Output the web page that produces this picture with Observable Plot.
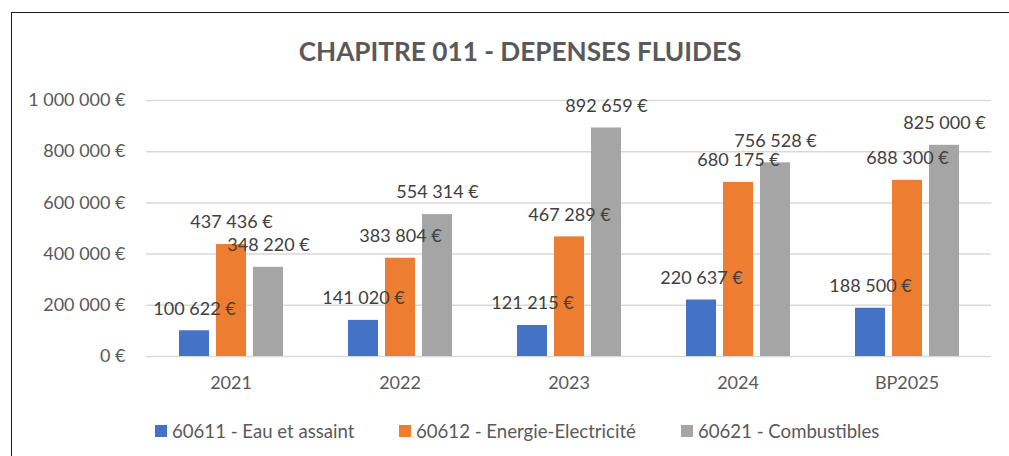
<!DOCTYPE html>
<html>
<head>
<meta charset="utf-8">
<script src="https://cdn.jsdelivr.net/npm/d3@7"></script>
<script src="https://cdn.jsdelivr.net/npm/@observablehq/plot@0.6"></script>
<style>
  html, body { margin: 0; padding: 0; background: #fff; }
  #wrap { position: relative; width: 1009px; height: 456px; overflow: hidden; font-family: Lato, "Open Sans", sans-serif; }
  #frame { position: absolute; left: 11px; top: 12px; width: 1100px; height: 600px; border-left: 1.5px solid #1a1a1a; border-top: 1.5px solid #1a1a1a; }
  #title { position: absolute; left: 0; top: 38px; width: 1040px; text-align: center; font-weight: bold; font-size: 26.2px; color: #595959; line-height: 1; }
  #chart { position: absolute; left: 0; top: 0; }
  #legend { position: absolute; left: 0; top: 419px; width: 1009px; height: 24px; font-size: 18.6px; color: #595959; white-space: nowrap; }
  .item { position: absolute; top: 0; display: flex; align-items: center; height: 24px; }
  .sw { width: 12px; height: 12px; margin-right: 5px; }
</style>
</head>
<body>
<div id="wrap">
  <div id="frame"></div>
  <div id="chart"></div>
  <div id="title">CHAPITRE 011 - DEPENSES FLUIDES</div>
  <div id="legend"></div>
</div>
<script>
const years = ["2021", "2022", "2023", "2024", "BP2025"];
const series = ["60611 - Eau et assaint", "60612 - Energie-Electricité", "60621 - Combustibles"];
const eau = [100622, 141020, 121215, 220637, 188500];
const energie = [437436, 383804, 467289, 680175, 688300];
const combustibles = [348220, 554314, 892659, 756528, 825000];
const colors = ["#4472C4", "#ED7D31", "#A5A5A5"];
const yTicks = [0, 200000, 400000, 600000, 800000, 1000000];

const seriesValues = [eau, energie, combustibles];
const data = years.flatMap((yr, i) => seriesValues.map((arr, j) => ({year: yr, series: series[j], value: arr[i]})));

const fmt = v => d3.format(",")(v).replace(/,/g, " ") + " €";

const chart = Plot.plot({
  width: 1009,
  height: 456,
  marginLeft: 144,
  marginRight: 16,
  marginTop: 100,
  marginBottom: 100,
  style: {fontFamily: "Lato, 'Open Sans', sans-serif", fontSize: "18px", color: "#595959", background: "transparent", overflow: "visible"},
  fx: {domain: years, padding: 0, label: null, tickSize: 0, tickPadding: 20, axis: "bottom"},
  x: {domain: series, paddingInner: 0.2, paddingOuter: 0.867, axis: null},
  y: {domain: [0, 1000000], ticks: yTicks, tickFormat: fmt, label: null, tickSize: 0, tickPadding: 21},
  color: {domain: series, range: colors},
  marks: [
    Plot.ruleY(yTicks, {stroke: "#D9D9D9", strokeWidth: 1.5}),
    Plot.barY(data, {fx: "year", x: "series", y: "value", fill: "series"}),
    Plot.text(data, {fx: "year", x: "series", y: "value", text: d => fmt(d.value), dy: -22, fill: "#404040", fontSize: 18})
  ]
});
document.getElementById("chart").appendChild(chart);

const legendLeft = [155, 399, 681];
const legend = document.getElementById("legend");
series.forEach((s, i) => {
  const item = document.createElement("div");
  item.className = "item";
  item.style.left = legendLeft[i] + "px";
  const sw = document.createElement("div");
  sw.className = "sw";
  sw.style.background = colors[i];
  const label = document.createElement("span");
  label.textContent = s;
  item.appendChild(sw);
  item.appendChild(label);
  legend.appendChild(item);
});
</script>
</body>
</html>
